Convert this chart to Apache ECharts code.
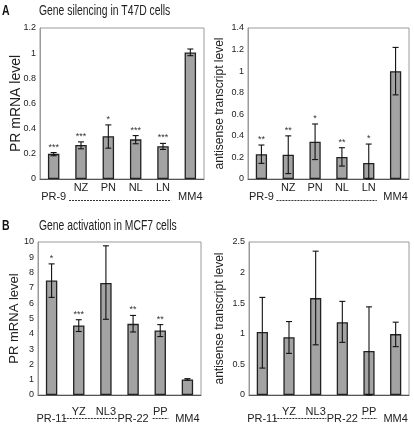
<!DOCTYPE html>
<html><head><meta charset="utf-8">
<script src="https://cdn.jsdelivr.net/npm/echarts@6/dist/echarts.min.js"></script>
<style>html,body{margin:0;padding:0;background:#fff}#c{width:414px;height:424px}</style>
</head><body><div id="c"></div>
<script>
const FONT = "'Liberation Sans', Arial, sans-serif";

const catsA = ['PR-9','NZ','PN','NL','LN','MM4'];
const levelA = ['lo','hi','hi','hi','hi','lo'];
const prA = [0.20, 0.27, 0.34, 0.315, 0.26, 1.005];
const prAErr = [[0.185,0.21],[0.24,0.295],[0.245,0.43],[0.28,0.345],[0.235,0.283],[0.98,1.033]];
const prAStars = ['***','***','*','***','***',''];
const asA = [0.23, 0.225, 0.345, 0.205, 0.148, 1.0];
const asAErr = [[0.145,0.315],[0.05,0.40],[0.18,0.51],[0.12,0.29],[0,0.324],[0.78,1.22]];
const asAStars = ['**','**','*','**','*',''];

const catsB = ['PR-11','YZ','NL3','PR-22','PP','MM4'];
const levelB = ['lo','hi','hi','lo','hi','lo'];
const prB = [7.48, 4.55, 7.32, 4.65, 4.22, 1.02];
const prBErr = [[6.38,8.57],[4.15,4.92],[4.95,9.75],[4.12,5.2],[3.82,4.6],[0.97,1.07]];
const prBStars = ['*','***','','**','**',''];
const asB = [1.03, 0.945, 1.583, 1.19, 0.72, 0.995];
const asBErr = [[0.44,1.595],[0.68,1.2],[0.82,2.35],[0.86,1.53],[0,1.44],[0.79,1.19]];

const titles = ['Gene silencing in T47D cells', 'Gene activation in MCF7 cells'];
const panelLetters = ['A', 'B'];

// dashed group spans in category units (start, end)
const dashA = [[0.56, 4.3]];
const dashB = [[0.45, 2.4], [3.72, 4.3]];

const panels = [
  {cats: catsA, level: levelA, vals: prA, err: prAErr, stars: prAStars, max: 1.2, step: 0.2, name: 'PR mRNA level', nameSize: 14, nameGap: 17, dash: dashA},
  {cats: catsA, level: levelA, vals: asA, err: asAErr, stars: asAStars, max: 1.4, step: 0.2, name: 'antisense transcript level', nameSize: 12, nameGap: 22, dash: dashA},
  {cats: catsB, level: levelB, vals: prB, err: prBErr, stars: prBStars, max: 10, step: 1, name: 'PR mRNA level', nameSize: 13, nameGap: 17, dash: dashB},
  {cats: catsB, level: levelB, vals: asB, err: asBErr, stars: ['','','','','',''], max: 2.5, step: 0.5, name: 'antisense transcript level', nameSize: 12, nameGap: 23, dash: dashB}
];
const grids = [
  {left: 40, top: 28, width: 164, height: 151},
  {left: 248, top: 28, width: 161, height: 151},
  {left: 38, top: 242, width: 163, height: 153},
  {left: 249, top: 242, width: 160, height: 153}
];
const labelMargin = [3, 3, 11, 11];
const loPad = [9, 9, 7, 7];

function makeErr(stars) {
  return function (params, api) {
    const x = api.value(0), lo = api.value(1), hi = api.value(2);
    const pLo = api.coord([x, lo]), pHi = api.coord([x, hi]);
    const hw = 3;
    const st = {stroke: '#111', lineWidth: 1.1};
    const ch = [
      {type: 'line', shape: {x1: pLo[0], y1: pLo[1], x2: pHi[0], y2: pHi[1]}, style: st},
      {type: 'line', shape: {x1: pLo[0] - hw, y1: pLo[1], x2: pLo[0] + hw, y2: pLo[1]}, style: st},
      {type: 'line', shape: {x1: pHi[0] - hw, y1: pHi[1], x2: pHi[0] + hw, y2: pHi[1]}, style: st}
    ];
    const s = stars[params.dataIndex];
    if (s) ch.push({type: 'text', style: {text: s, x: pHi[0], y: pHi[1] - 1, align: 'center', verticalAlign: 'bottom', fontSize: 9, fontFamily: FONT, fill: '#333'}});
    return {type: 'group', children: ch};
  };
}

const option = {
  animation: false,
  backgroundColor: '#fff',
  grid: grids.map(g => Object.assign({show: true, borderColor: '#9a9a9a', borderWidth: 1, backgroundColor: 'transparent'}, g)),
  xAxis: panels.map((p, i) => ({
    type: 'category', gridIndex: i, data: p.cats,
    axisLine: {lineStyle: {color: '#555', width: 1}},
    axisTick: {show: false},
    axisLabel: {
      interval: 0, margin: labelMargin[i], color: '#222', fontFamily: FONT, fontSize: 11,
      formatter: (v, idx) => '{' + p.level[idx] + '|' + v + '}',
      rich: {
        hi: {fontSize: 11, fontFamily: FONT, color: '#222'},
        lo: {fontSize: 11, fontFamily: FONT, color: '#222', padding: [loPad[i], 0, 0, 0]}
      }
    }
  })),
  yAxis: panels.map((p, i) => ({
    type: 'value', gridIndex: i, min: 0, max: p.max, interval: p.step,
    name: p.name, nameLocation: 'middle', nameGap: p.nameGap, nameMoveOverlap: false,
    nameTextStyle: {fontSize: p.nameSize, fontFamily: FONT, color: '#222'},
    axisLine: {show: true, lineStyle: {color: '#9a9a9a'}},
    axisTick: {show: false},
    splitLine: {show: false},
    axisLabel: {fontSize: 9, fontFamily: FONT, color: '#222', margin: 4}
  })),
  series: []
};
panels.forEach((p, i) => {
  option.series.push({
    type: 'bar', xAxisIndex: i, yAxisIndex: i, data: p.vals, barWidth: '42%',
    itemStyle: {color: '#a3a3a3', borderColor: '#222', borderWidth: 1.3}
  });
  option.series.push({
    type: 'custom', xAxisIndex: i, yAxisIndex: i, z: 5,
    data: p.err.map((e, k) => [k, e[0], e[1]]),
    encode: {x: 0, y: [1, 2]},
    renderItem: makeErr(p.stars)
  });
});

const chart = echarts.init(document.getElementById('c'), null, {renderer: 'canvas'});
chart.setOption(option);

const dashOffset = [20.5, 20.5, 22.7, 22.7];
const graphics = [];
panels.forEach((p, i) => {
  const p0 = chart.convertToPixel({gridIndex: i}, [0, 0]);
  const p1 = chart.convertToPixel({gridIndex: i}, [1, 0]);
  const w = p1[0] - p0[0];
  p.dash.forEach(d => {
    const y = Math.round(p0[1] + dashOffset[i]) + 0.5;
    graphics.push({type: 'line', shape: {x1: p0[0] + d[0] * w, y1: y, x2: p0[0] + d[1] * w, y2: y},
      style: {stroke: '#333', lineWidth: 1, lineDash: [2, 1]}});
  });
});
// panel letters and titles (horizontally condensed like the reference)
const titleY = [11, 226.5];
[0, 1].forEach(k => {
  graphics.push({type: 'text', x: 2, y: titleY[k], scaleX: 0.75,
    style: {text: panelLetters[k], fontSize: 14, fontWeight: 'bold', fontFamily: FONT, fill: '#111', verticalAlign: 'middle'}});
  graphics.push({type: 'text', x: 39, y: titleY[k], scaleX: 0.74,
    style: {text: titles[k], fontSize: 14, fontFamily: FONT, fill: '#222', verticalAlign: 'middle'}});
});
chart.setOption({graphic: graphics});
</script></body></html>
